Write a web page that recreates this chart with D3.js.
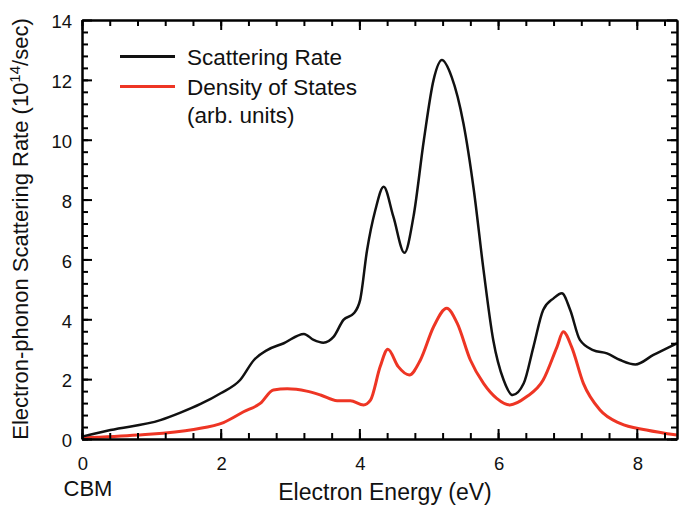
<!DOCTYPE html>
<html><head><meta charset="utf-8">
<script src="https://cdn.jsdelivr.net/npm/d3@7"></script>
<style>body{margin:0;background:#fff}svg{display:block}text{font-family:"Liberation Sans",Arial,sans-serif;fill:#111}</style>
</head><body><svg id="c" width="679" height="508"></svg>
<script>
const rateE = [0,0.41,1.13,1.42,1.71,2.0,2.28,2.48,2.67,2.91,3.2,3.34,3.48,3.63,3.77,3.92,4.01,4.11,4.23,4.35,4.49,4.65,4.78,4.93,5.07,5.19,5.33,5.5,5.65,5.79,5.93,6.08,6.21,6.37,6.51,6.65,6.8,6.92,7.04,7.18,7.37,7.57,7.76,7.98,8.24,8.58];
const rateV = [0.08,0.3,0.63,0.88,1.17,1.53,1.97,2.64,2.97,3.2,3.51,3.31,3.22,3.42,3.98,4.2,4.64,6.3,7.65,8.43,7.43,6.22,7.43,9.99,12.0,12.66,12.1,10.55,8.32,5.65,3.31,1.97,1.47,1.86,3.08,4.31,4.7,4.87,4.31,3.31,2.97,2.86,2.64,2.49,2.81,3.2];
const dosE = [0,0.8,1.61,2.04,2.33,2.57,2.76,2.96,3.24,3.44,3.68,3.87,4.06,4.16,4.3,4.41,4.56,4.72,4.88,5.07,5.26,5.41,5.6,5.79,5.98,6.17,6.41,6.65,6.85,6.94,7.06,7.23,7.47,7.76,8.14,8.58];
const dosV = [0.03,0.13,0.32,0.55,0.91,1.19,1.64,1.68,1.6,1.47,1.28,1.28,1.14,1.3,2.42,3.0,2.42,2.14,2.64,3.75,4.37,3.87,2.64,1.86,1.36,1.14,1.41,1.97,3.08,3.58,3.08,1.86,0.97,0.52,0.3,0.13];
const xTicks = [0,2,4,6,8];
const yTicks = [0,2,4,6,8,10,12,14];
const xDomain = [0,8.58], yDomain = [0,14];

const svg = d3.select("#c");
const L=82,R=677,T=20,B=439;
const x = d3.scaleLinear().domain(xDomain).range([L,R]);
const y = d3.scaleLinear().domain(yDomain).range([B,T]);

const xMinor = d3.range(0, 8.58, 0.4);
const yMinor = d3.range(0, 14, 0.4);

const lineGen = (E,V)=>d3.line().x((d,i)=>x(E[i])).y(d=>y(d)).curve(d3.curveMonotoneX)(V);
svg.append("path").attr("d",lineGen(dosE,dosV)).attr("fill","none").attr("stroke","#ee3524").attr("stroke-width",3);
svg.append("path").attr("d",lineGen(rateE,rateV)).attr("fill","none").attr("stroke","#111").attr("stroke-width",2.5);

// standard d3 axes with inward ticks (mirrored on all four sides)
const mk = (gen, tr, vals, size) => {
  const g = svg.append("g").attr("transform", tr).attr("font-size", 18)
    .call(gen.tickValues(vals).tickSizeInner(-size).tickSizeOuter(0).tickFormat(""));
  g.selectAll("line,path").attr("stroke","#000").attr("stroke-width",2);
  return g;
};
mk(d3.axisBottom(x), `translate(0,${B})`, xMinor, 6);
mk(d3.axisBottom(x), `translate(0,${B})`, xTicks, 10);
mk(d3.axisTop(x), `translate(0,${T})`, xMinor, 6);
mk(d3.axisTop(x), `translate(0,${T})`, xTicks, 10);
mk(d3.axisLeft(y), `translate(${L},0)`, yMinor, 6);
mk(d3.axisLeft(y), `translate(${L},0)`, yTicks, 10);
mk(d3.axisRight(y), `translate(${R},0)`, yMinor, 6);
mk(d3.axisRight(y), `translate(${R},0)`, yTicks, 10);

// tick labels
svg.selectAll(".xl").data(xTicks).enter().append("text").attr("x",d=>x(d)+1).attr("y",470).attr("text-anchor","middle").attr("font-size",18.5).text(d=>d);
svg.selectAll(".yl").data(yTicks).enter().append("text").attr("x",72).attr("y",d=>y(d)+8.3).attr("text-anchor","end").attr("font-size",18.5).text(d=>d);

svg.append("text").attr("x",88).attr("y",496).attr("text-anchor","middle").attr("font-size",22).text("CBM");
svg.append("text").attr("x",385).attr("y",500).attr("text-anchor","middle").attr("font-size",23).text("Electron Energy (eV)");
const yt = svg.append("text").attr("transform","translate(28,229) rotate(-90)").attr("text-anchor","middle").attr("font-size",22);
yt.append("tspan").text("Electron-phonon Scattering Rate (10");
yt.append("tspan").attr("font-size",15).attr("dy",-8).text("14");
yt.append("tspan").attr("dy",8).text("/sec)");

// legend
svg.append("path").attr("d",`M120,56.5H175`).attr("stroke","#111").attr("stroke-width",3);
svg.append("path").attr("d",`M120,86.5H175`).attr("stroke","#ee3524").attr("stroke-width",3);
svg.append("text").attr("x",187).attr("y",65).attr("font-size",22.5).text("Scattering Rate");
svg.append("text").attr("x",187).attr("y",95).attr("font-size",22.5).text("Density of States");
svg.append("text").attr("x",187).attr("y",123).attr("font-size",22.5).text("(arb. units)");
</script></body></html>
